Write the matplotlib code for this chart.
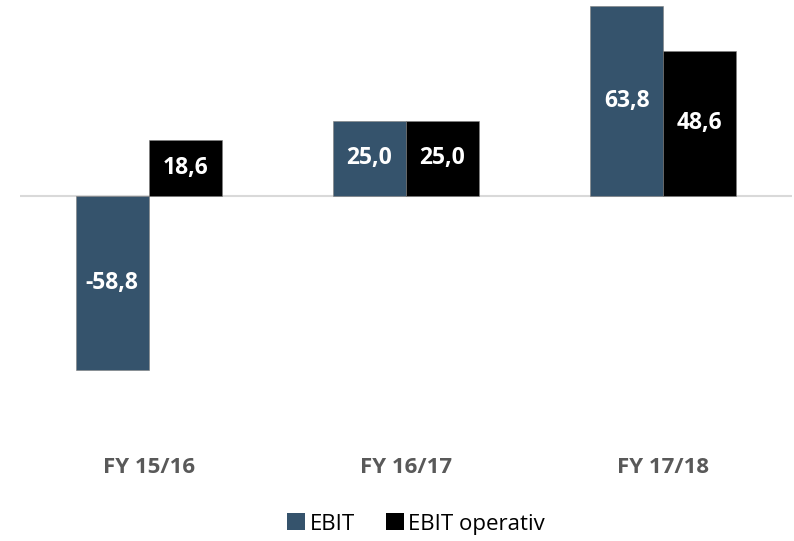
import matplotlib
matplotlib.use("Agg")
import matplotlib.pyplot as plt
import numpy as np
from matplotlib.patches import Patch

categories = ["FY 15/16", "FY 16/17", "FY 17/18"]
ebit = [-58.8, 25.0, 63.8]
ebit_operativ = [18.6, 25.0, 48.6]
series_names = ["EBIT", "EBIT operativ"]
colors = ["#35536C", "#000000"]

plt.rcParams['font.family'] = ['Open Sans', 'DejaVu Sans']

W, H = 794, 541
fig = plt.figure(figsize=(W / 100, H / 100), dpi=100)
ax_left, ax_right = 20, 792
ax = fig.add_axes([ax_left / W, 0, (ax_right - ax_left) / W, 1])

zero_px = 195.5
ppu = 2.97
ax.set_ylim(-(H - zero_px) / ppu, zero_px / ppu)
ax.set_xlim(-0.5, 2.5)

x = np.arange(len(categories))
bw = 0.2835
for i, (vals, col) in enumerate(zip([ebit, ebit_operativ], colors)):
    pos = x + (i - 0.5) * bw
    ax.bar(pos, vals, width=bw, color=col, edgecolor="#7f7f7f", linewidth=0.4, zorder=2)
    for xp, v in zip(pos, vals):
        ax.text(xp, v / 2, f"{v:.1f}".replace(".", ","), ha="center", va="center",
                color="white", fontsize=16.5, fontweight="bold", zorder=3)

ax.axhline(0, color="#D9D9D9", linewidth=1.5, zorder=1)

label_y = -(468 - zero_px) / ppu
for xi, c in zip(x, categories):
    ax.text(xi, label_y, c, ha="center", va="center", fontsize=16, fontweight="bold", color="#595959")

ax.axis("off")

handles = [Patch(facecolor=c, edgecolor="none") for c in colors]
fig.legend(handles, series_names, loc="center", bbox_to_anchor=(416 / W, 1 - 524 / H), ncol=2,
           frameon=False, fontsize=16, handlelength=0.8, handleheight=0.8,
           handletextpad=0.2, columnspacing=1.4, borderpad=0)

fig.savefig("out.png", dpi=100)
